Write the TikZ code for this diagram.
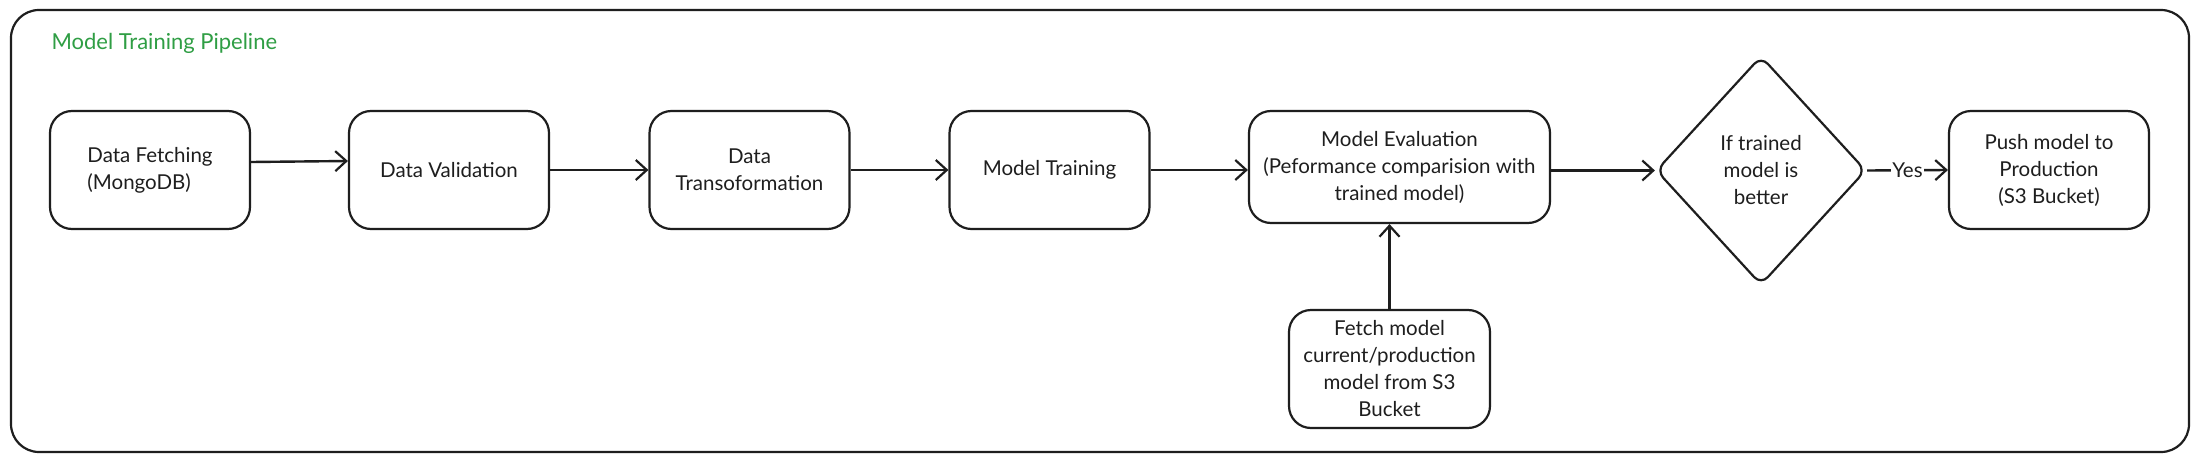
\documentclass[tikz,border=0pt]{standalone}
\usepackage{fontspec}
\setmainfont{Lato}
\usetikzlibrary{arrows.meta,shapes.geometric}
\definecolor{ink}{HTML}{1E1E1E}
\definecolor{titlegreen}{HTML}{2F9E44}
\begin{document}
\begin{tikzpicture}[x=1pt,y=-1pt,
  box/.style={draw=ink, line width=2.2pt, rounded corners=22pt, inner sep=0pt,
    minimum width=200pt, minimum height=118pt,
    font=\fontsize{20.5}{27}\selectfont, align=center, text=ink},
  decision/.style={diamond, draw=ink, line width=2.2pt, rounded corners=10pt, inner sep=0pt,
    minimum width=210pt, minimum height=229pt,
    font=\fontsize{20.5}{27}\selectfont, align=center, text=ink},
  flow/.style={draw=ink, line width=2.4pt, -{Straight Barb[length=11pt,width=20pt,line width=2.2pt]}},
  frame/.style={draw=ink, line width=2.2pt, rounded corners=28pt},
]
\useasboundingbox (0,0) rectangle (2200,460);
\fill[white] (0,0) rectangle (2200,460);
\draw[frame] (11,10) rectangle (2189,452);
\node[anchor=west, text=titlegreen, font=\fontsize{22}{27}\selectfont] (title) at (48,43) {Model Training Pipeline};

\node[box, align=left] (b1) at (150,170) {Data Fetching\\(MongoDB)};
\node[box] (b2) at (449,170) {Data Validation};
\node[box] (b3) at (749.5,170) {Data\\Transoformation};
\node[box] (b4) at (1049.5,170) {Model Training};
\node[box, minimum width=301pt, minimum height=112pt] (b5) at (1399.5,167) {Model Evaluation\\(Peformance comparision with\\trained model)};
\node[decision] (d) at (1761,170.5) {If trained\\model is\\better};
\node[box] (b6) at (2049,170) {Push model to\\Production\\(S3 Bucket)};
\node[box, minimum width=201pt] (b7) at (1389.5,369) {Fetch model\\current/production\\model from S3\\Bucket};

\draw[flow] ([yshift=8pt]b1.east) -- ([yshift=9pt]b2.west);
\draw[flow] (b2.east) -- (b3.west);
\draw[flow] (b3.east) -- (b4.west);
\draw[flow] (b4.east) -- ([yshift=-3pt]b5.west);
\draw[flow] (b5.east |- d.west) -- (d.west);
\draw[flow] (d.east) -- node[fill=white, inner sep=1pt, text=ink, font=\fontsize{20.5}{27}\selectfont] (yes) {Yes} (b6.west);
\draw[flow] (b7.north) -- (b7.north |- b5.south);
\end{tikzpicture}
\end{document}
